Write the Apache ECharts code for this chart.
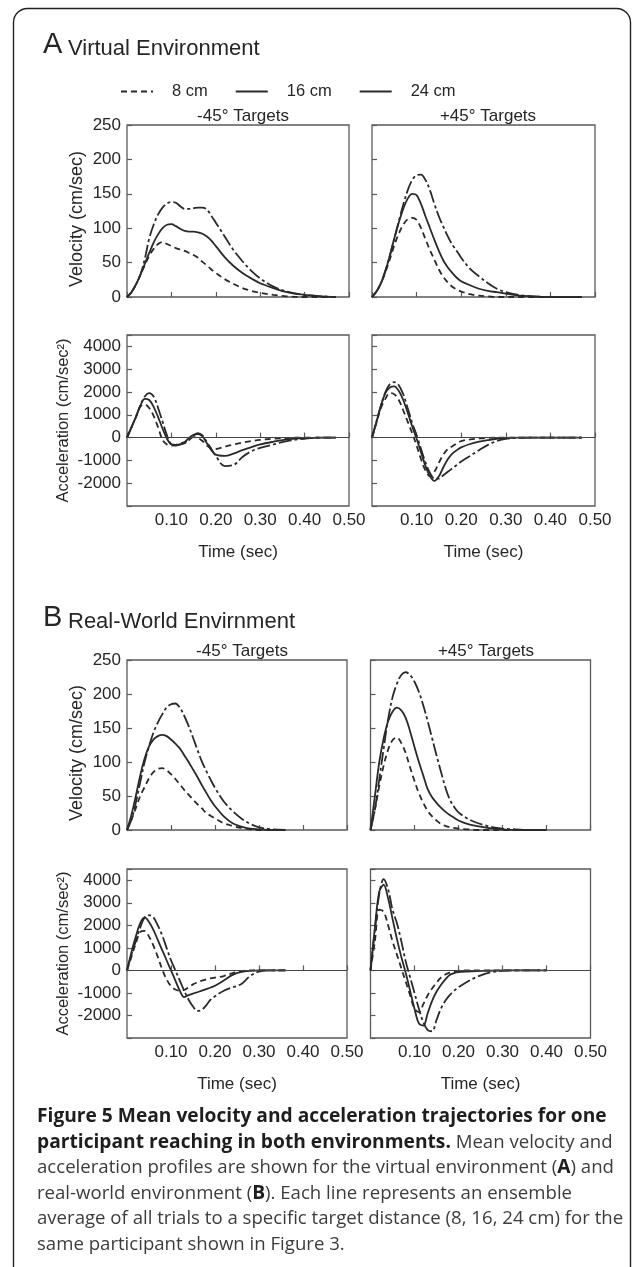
<!DOCTYPE html>
<html><head><meta charset="utf-8">
<script src="https://cdn.jsdelivr.net/npm/echarts@6/dist/echarts.min.js"></script>
<style>html,body{margin:0;padding:0;background:#fff}#c{width:632px;height:1267px}</style>
</head><body><div id="c"></div>
<script>
// ---- data (time in seconds) ----
const T = [0,0.01,0.02,0.03,0.04,0.05,0.06,0.07,0.08,0.09,0.10,0.11,0.12,0.13,0.14,0.15,0.16,0.17,0.18,0.19,0.20,0.22,0.24,0.26,0.28,0.30,0.33,0.36,0.40,0.44,0.47];
const SERIES_NAMES = ['8 cm','16 cm','24 cm'];
const X_TICKS = [0.10,0.20,0.30,0.40,0.50];

// A: virtual environment, -45° targets
const A_VEL_L_8  = [0,7,18,32,46,60,70,77,80,77,74,71,69,67,64,61,57,51,46,40,35,26,19,13,9,6,3,1,0,0,0];
const A_VEL_L_16 = [0,7,18,32,48,64,79,91,100,105,106,103,99,96,95,95,94,92,88,82,74,58,45,35,27,20,13,7,3,1,0];
const A_VEL_L_24 = [0,7,18,32,55,85,105,120,130,136,138,137,132,128,128,129,130,130,127,118,108,88,68,52,38,27,15,8,3,1,0];
const A_ACC_L_8  = [0,450,900,1350,1450,1300,950,450,-100,-300,-350,-320,-250,-200,-80,20,-20,-150,-350,-480,-500,-400,-300,-220,-150,-100,-50,-20,0,0,0];
const A_ACC_L_16 = [0,450,900,1400,1700,1650,1350,900,400,-50,-300,-320,-300,-200,0,120,150,50,-250,-550,-750,-800,-700,-550,-420,-300,-180,-80,-20,0,0];
const A_ACC_L_24 = [0,450,900,1400,1800,1950,1800,1300,700,100,-300,-350,-300,-250,-100,100,200,100,-200,-500,-800,-1250,-1200,-850,-600,-450,-300,-150,-50,0,0];
// A: virtual environment, +45° targets
const A_VEL_R_8  = [0,8,20,36,55,75,92,105,113,115,112,100,84,68,54,40,29,21,15,11,8,4,2,1,0,0,0,0,0,0,0];
const A_VEL_R_16 = [0,8,20,38,60,85,108,128,143,150,148,135,117,100,83,67,53,43,35,28,23,17,12,9,7,5,2,1,0,0,0];
const A_VEL_R_24 = [0,8,20,38,60,85,110,134,155,170,177,178,170,155,135,117,102,88,76,67,57,41,30,20,12,7,3,1,0,0,0];
const A_ACC_R_8  = [0,650,1300,1700,1950,1900,1650,1200,700,200,-350,-950,-1450,-1700,-1500,-1100,-750,-500,-380,-250,-150,-80,-40,-10,0,0,0,0,0,0,0];
const A_ACC_R_16 = [0,700,1400,1950,2200,2250,2050,1650,1100,500,-50,-650,-1250,-1700,-1900,-1700,-1300,-950,-700,-550,-430,-280,-180,-110,-50,-10,0,0,0,0,0];
const A_ACC_R_24 = [0,700,1400,2000,2350,2430,2300,1900,1300,650,100,-500,-1100,-1550,-1800,-1800,-1650,-1500,-1350,-1200,-1050,-800,-550,-320,-150,-50,-10,0,0,0,0];
// B: real-world environment, -45° targets
const B_VEL_L_8  = [0,15,32,50,63,76,85,90,91,88,82,75,67,59,52,45,38,32,25,21,17,10,6,3,1,0,0,0,null,null,null];
const B_VEL_L_16 = [0,22,50,80,105,123,133,138,140,138,133,127,120,110,100,89,78,66,55,44,35,20,10,5,2,1,0,0,null,null,null];
const B_VEL_L_24 = [0,15,40,70,100,123,143,158,170,180,185,186,180,168,153,136,118,101,87,74,62,42,28,17,9,4,1,0,null,null,null];
const B_ACC_L_8  = [0,600,1200,1700,1750,1500,1100,600,50,-400,-700,-850,-900,-870,-750,-620,-530,-450,-400,-350,-320,-250,-120,-40,0,0,0,0,null,null,null];
const B_ACC_L_16 = [0,800,1500,2100,2350,2150,1800,1350,900,450,0,-450,-900,-1180,-1100,-1030,-970,-900,-830,-760,-680,-450,-200,-70,-20,0,0,0,null,null,null];
const B_ACC_L_24 = [0,700,1300,1900,2350,2450,2350,2000,1550,1000,450,0,-450,-900,-1300,-1600,-1800,-1750,-1550,-1300,-1150,-900,-750,-600,-250,-50,0,0,null,null,null];
// B: real-world environment, +45° targets
const B_VEL_R_8  = [0,30,65,95,118,132,136,128,113,92,72,54,40,28,20,14,9,6,4,3,2,1,0,0,0,0,0,0,null,null,null];
const B_VEL_R_16 = [0,50,100,135,160,174,180,176,165,145,122,100,80,60,48,40,33,27,22,18,14,9,6,4,2,1,0,0,0,null,null];
const B_VEL_R_24 = [0,30,75,120,163,195,215,228,232,228,218,203,183,160,135,110,86,63,45,34,26,17,11,7,4,2,1,0,0,null,null];
const B_ACC_R_8  = [0,1300,2700,2600,2000,1300,700,100,-500,-1100,-1700,-1850,-1500,-1100,-800,-550,-320,-180,-100,-50,-20,0,0,0,0,0,0,0,0,null,null];
const B_ACC_R_16 = [0,1900,3500,3800,3200,2300,1400,600,-100,-900,-1700,-2350,-2450,-1900,-1350,-950,-650,-400,-200,-120,-80,-50,-30,-20,-10,0,0,0,0,null,null];
const B_ACC_R_24 = [0,1800,3400,4050,3600,2700,2100,1300,400,-300,-1000,-1700,-2300,-2650,-2700,-2200,-1700,-1350,-1100,-900,-750,-500,-300,-150,-60,-20,0,0,0,null,null];

// ---- layout ----
const FONT = 'Liberation Sans, Arial, sans-serif';
const CAP_FONT = 'Open Sans';
const INK = '#262626';
const FRAME = '#5a5a5a';
const grids = [
  {left:127, top:125, width:222, height:172, kind:'vel', side:'L', d:[A_VEL_L_8,A_VEL_L_16,A_VEL_L_24]},
  {left:372, top:125, width:223, height:172, kind:'vel', side:'R', d:[A_VEL_R_8,A_VEL_R_16,A_VEL_R_24]},
  {left:127, top:335, width:222, height:171, kind:'acc', side:'L', d:[A_ACC_L_8,A_ACC_L_16,A_ACC_L_24]},
  {left:372, top:335, width:223, height:171, kind:'acc', side:'R', d:[A_ACC_R_8,A_ACC_R_16,A_ACC_R_24]},
  {left:127, top:660, width:220, height:170, kind:'vel', side:'L', d:[B_VEL_L_8,B_VEL_L_16,B_VEL_L_24]},
  {left:370.5, top:660, width:220, height:170, kind:'vel', side:'R', d:[B_VEL_R_8,B_VEL_R_16,B_VEL_R_24]},
  {left:127, top:869, width:220, height:169, kind:'acc', side:'L', d:[B_ACC_L_8,B_ACC_L_16,B_ACC_L_24]},
  {left:370.5, top:869, width:220, height:169, kind:'acc', side:'R', d:[B_ACC_R_8,B_ACC_R_16,B_ACC_R_24]}
];
const DASH = {'8 cm':[6,4], '16 cm':'solid', '24 cm':[13,3,3,3]};
const ts = (size)=>({fontSize:size, fontWeight:'normal', color:INK, fontFamily:FONT});

const option = {
  animation:false,
  backgroundColor:'#fff',
  textStyle:{fontFamily:FONT, color:INK},
  title:[
    {text:'A', left:38, top:25, textStyle:ts(29)},
    {text:'Virtual Environment', left:63, top:33, textStyle:ts(22)},
    {text:'-45° Targets', left:238, textAlign:'center', top:103, textStyle:ts(17)},
    {text:'+45° Targets', left:483, textAlign:'center', top:103, textStyle:ts(17)},
    {text:'B', left:38, top:598, textStyle:ts(29)},
    {text:'Real-World Envirnment', left:63, top:606, textStyle:ts(22)},
    {text:'-45° Targets', left:237, textAlign:'center', top:638, textStyle:ts(17)},
    {text:'+45° Targets', left:481, textAlign:'center', top:638, textStyle:ts(17)},
    {
      text:'{b|Figure 5 Mean velocity and acceleration trajectories for one}\n' +
           '{b|participant reaching in both environments.}{n| Mean velocity and}\n' +
           '{n|acceleration profiles are shown for the virtual environment (}{b|A}{n|) and}\n' +
           '{n|real-world environment (}{b|B}{n|). Each line represents an ensemble}\n' +
           '{n|average of all trials to a specific target distance (8, 16, 24 cm) for the}\n' +
           '{n|same participant shown in Figure 3.}',
      left:32, top:1099,
      textStyle:{fontFamily:CAP_FONT, fontSize:18.6, lineHeight:25.5,
        rich:{
          b:{fontFamily:CAP_FONT, fontSize:19.2, fontWeight:'bold', color:'#1e1e1e', lineHeight:25.5},
          n:{fontFamily:CAP_FONT, fontSize:18.6, fontWeight:'normal', color:'#3c3c3c', lineHeight:25.5}
        }}
    }
  ],
  legend:{
    left:115, top:78, itemWidth:32, itemHeight:14, itemGap:27,
    itemStyle:{opacity:0},
    textStyle:{fontSize:16.5, color:INK, fontFamily:FONT, padding:[0,0,0,14]},
    data:[{name:'8 cm'},{name:'16 cm'},{name:'24 cm', lineStyle:{type:'solid'}}]
  },
  graphic:[{type:'rect', shape:{x:13.5, y:8.5, width:617, height:1300, r:14}, style:{fill:'none', stroke:'#222', lineWidth:1.4}, silent:true, z:-1}],
  grid:[], xAxis:[], yAxis:[], series:[]
};

grids.forEach((g,i)=>{
  option.grid.push({left:g.left, top:g.top, width:g.width, height:g.height, show:true, borderColor:FRAME, borderWidth:1.3, backgroundColor:'transparent'});
  const isAcc = g.kind==='acc';
  option.xAxis.push({
    type:'value', gridIndex:i, min:0, max:0.5, interval:0.1,
    axisLine:{show:false}, splitLine:{show:false},
    axisTick:{show:true, inside:true, length:5, lineStyle:{color:FRAME, width:1.2}},
    axisLabel:{show:isAcc, margin:6, fontSize:17, color:INK, fontFamily:FONT,
      formatter:v=> X_TICKS.some(t=>Math.abs(t-v)<1e-9) ? v.toFixed(2) : ''},
    name:isAcc?'Time (sec)':'', nameLocation:'middle', nameGap:38,
    nameTextStyle:{fontSize:17, color:INK, fontFamily:FONT}
  });
  option.yAxis.push({
    type:'value', gridIndex:i,
    min:isAcc?-3000:0, max:isAcc?4500:250, interval:isAcc?1000:50,
    axisLine:{show:false}, splitLine:{show:false},
    axisTick:{show:true, inside:true, length:5, lineStyle:{color:FRAME, width:1.2}},
    axisLabel:{show:g.side==='L', margin:6, fontSize:17, color:INK, fontFamily:FONT,
      formatter:v=> (isAcc && (v<-2500 || v>4200)) ? '' : String(v)},
    name:g.side==='L' ? (isAcc?'Acceleration (cm/sec²)':'Velocity (cm/sec)') : '',
    nameLocation:'middle', nameGap:isAcc?55:41,
    nameTextStyle:isAcc ? {fontSize:16.5, color:INK, fontFamily:FONT}
                        : {fontSize:18, color:INK, fontFamily:FONT, padding:[0,16,0,0]}
  });
  SERIES_NAMES.forEach((nm,k)=>{
    const s = {
      type:'line', name:nm, xAxisIndex:i, yAxisIndex:i, showSymbol:false, symbol:'none',
      smooth:0.35, clip:true,
      lineStyle:{color:'#2a2a2a', width:1.8, type:DASH[nm]},
      itemStyle:{color:'#2a2a2a'},
      data:T.map((t,j)=>[t, g.d[k][j]]).filter(p=>p[1]!==null && p[1]!==undefined)
    };
    if(isAcc && k===1){
      s.markLine = {silent:true, symbol:'none', label:{show:false}, animation:false,
        lineStyle:{color:'#444', type:'solid', width:1.2}, data:[{yAxis:0}]};
    }
    option.series.push(s);
  });
});

const chart = echarts.init(document.getElementById('c'), null, {renderer:'canvas'});
chart.setOption(option);
</script>
</body></html>
